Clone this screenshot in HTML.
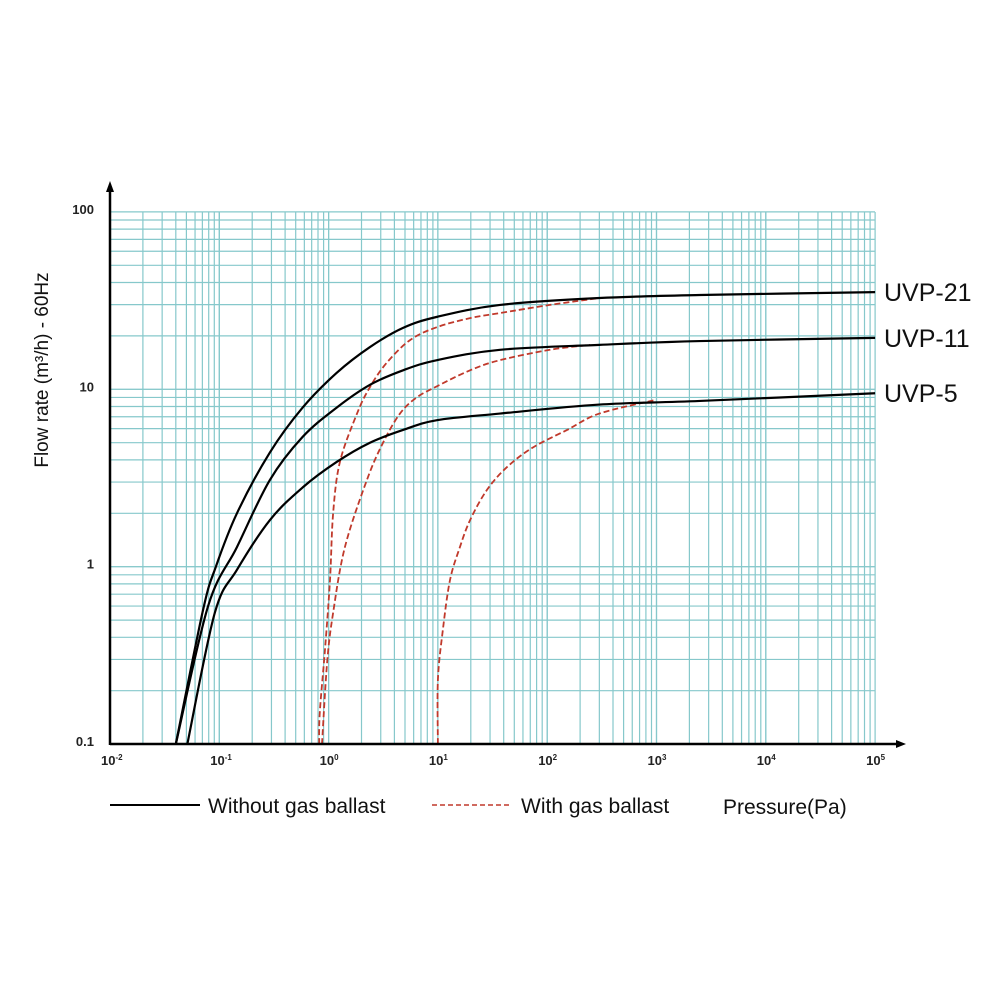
<!DOCTYPE html>
<html><head><meta charset="utf-8"><style>
html,body{margin:0;padding:0;background:#fff;}
svg{display:block;font-family:"Liberation Sans",sans-serif;}
</style></head><body>
<svg id="chart" width="1000" height="1000" viewBox="0 0 1000 1000">
<g id="grid"></g>
<g id="curves"></g>
<g id="axes">
<line x1="110" y1="744" x2="900" y2="744" stroke="#000" stroke-width="2.5"/>
<polygon points="906,744 896,740 896,748" fill="#000"/>
<line x1="110" y1="745" x2="110" y2="190" stroke="#000" stroke-width="2.5"/>
<polygon points="110,181 106,192 114,192" fill="#000"/>
</g>
<g id="xticks"></g>
<g id="yticks"></g>
<text x="48" y="370" transform="rotate(-90 48 370)" text-anchor="middle" font-size="19" fill="#111">Flow rate (m³/h) - 60Hz</text>
<text x="884" y="301" font-size="25" fill="#111">UVP-21</text>
<text x="884" y="347" font-size="25" fill="#111">UVP-11</text>
<text x="884" y="402" font-size="25" fill="#111">UVP-5</text>
<g>
<line x1="110" y1="805" x2="200" y2="805" stroke="#000" stroke-width="2"/>
<text x="208" y="813" font-size="21" fill="#111">Without gas ballast</text>
<line x1="432" y1="805" x2="512" y2="805" stroke="#c0392b" stroke-width="1.5" stroke-dasharray="5,3"/>
<text x="521" y="813" font-size="21" fill="#111">With gas ballast</text>
</g>
<text x="723" y="814" font-size="21" fill="#111">Pressure(Pa)</text>
</svg>
<script>
const xExponents = [-2,-1,0,1,2,3,4,5];
const yTickValues = [0.1,1,10,100];
const yTickLabels = ["0.1","1","10","100"];
const p21 = [0.040,0.071,0.093,0.145,0.29,0.58,1.19,2.39,4.8,9.8,37,300,2500,100000];
const q21 = [0.1,0.57,1.0,2.0,4.4,7.9,12.4,17.3,22.2,25.6,29.9,32.7,34,35.3];
const p11 = [0.040,0.079,0.145,0.29,0.58,1.19,2.39,4.8,9.8,37,300,2500,100000];
const q11 = [0.1,0.6,1.29,3.08,5.4,7.9,10.6,12.8,14.6,16.7,17.8,18.7,19.5];
const p5 = [0.051,0.091,0.145,0.29,0.58,1.19,2.39,4.8,9.8,37,300,2500,100000];
const q5 = [0.1,0.55,0.96,1.83,2.8,3.9,5.0,5.9,6.7,7.3,8.2,8.6,9.5];
const pg21 = [0.82,0.83,0.93,1.03,1.10,1.27,1.82,2.39,3.4,5.6,9.8,19.7,37,106,300];
const qg21 = [0.1,0.15,0.35,0.84,2.0,3.9,7.3,10.3,14.1,19.0,22.4,25.2,26.9,29.9,32.7];
const pg11 = [0.87,0.97,1.10,1.41,2.24,3.15,4.5,6.4,9.8,19.7,37,106,247];
const qg11 = [0.1,0.29,0.55,1.29,3.08,5.0,7.3,9.0,10.4,12.8,14.6,16.7,17.8];
const pg5 = [10,10.0,11.1,12.9,15.9,19.7,28,43,74,152,300,970];
const qg5 = [0.1,0.23,0.44,0.84,1.29,1.83,2.7,3.65,4.7,5.9,7.3,8.7];

const NS="http://www.w3.org/2000/svg";
function X(p){return 110+(Math.log10(p)+2)*109.3;}
function Y(q){return 389.3-(Math.log10(q)-1)*177.4;}
function mk(tag,attrs,parent){const e=document.createElementNS(NS,tag);for(const k in attrs)e.setAttribute(k,attrs[k]);parent.appendChild(e);return e;}
const grid=document.getElementById('grid');
for(let e=-2;e<5;e++){for(let k=1;k<=10;k++){const v=k*Math.pow(10,e);if(k===1&&e===-2)continue;
 const l=mk('line',{x1:X(v),x2:X(v),y1:212,y2:744,stroke:'#86c8cb','stroke-width':1.2},grid);
 
 }}
for(let e=-1;e<2;e++){for(let k=1;k<=10;k++){const v=k*Math.pow(10,e);if(k===1&&e===-1)continue;
 const l=mk('line',{x1:110,x2:875,y1:Y(v),y2:Y(v),stroke:'#86c8cb','stroke-width':1.2},grid);
 
 }}
const xt=document.getElementById('xticks');
xExponents.forEach(e=>{const t=mk('text',{x:X(Math.pow(10,e))-9,y:765,'font-size':13,'font-weight':'bold',fill:'#222'},xt);
 
 
 t.textContent='10';const s=mk('tspan',{dy:-5,'font-size':8},t);s.textContent=String(e);});
const yt=document.getElementById('yticks');
yTickValues.forEach((v,i)=>{const t=mk('text',{x:94,y:Y(v)+2,'font-size':13,'font-weight':'bold',fill:'#222','text-anchor':'end'},yt);
 
 
 t.textContent=yTickLabels[i];});
function pathFor(ps,qs){const pts=ps.map((p,i)=>[X(p),Y(qs[i])]);let d='M'+pts[0][0]+','+pts[0][1];
 for(let i=0;i<pts.length-1;i++){const p0=pts[Math.max(0,i-1)],p1=pts[i],p2=pts[i+1],p3=pts[Math.min(pts.length-1,i+2)];
 const c1=[p1[0]+(p2[0]-p0[0])/6,p1[1]+(p2[1]-p0[1])/6],c2=[p2[0]-(p3[0]-p1[0])/6,p2[1]-(p3[1]-p1[1])/6];
 d+=' C'+c1[0]+','+c1[1]+' '+c2[0]+','+c2[1]+' '+p2[0]+','+p2[1];}return d;}
const cg=document.getElementById('curves');
const series=[[pg21,qg21,'gas-uvp-21',1],[pg11,qg11,'gas-uvp-11',1],[pg5,qg5,'gas-uvp-5',1],[p21,q21,'curve-uvp-21',0],[p11,q11,'curve-uvp-11',0],[p5,q5,'curve-uvp-5',0]];
series.forEach(s=>{const a=s[3]?{stroke:'#c0392b','stroke-width':1.8,'stroke-dasharray':'6,3',fill:'none'}:{stroke:'#000','stroke-width':2.2,fill:'none'};
 a.d=pathFor(s[0],s[1]);const p=mk('path',a,cg);
 
 });
</script>
</body></html>
